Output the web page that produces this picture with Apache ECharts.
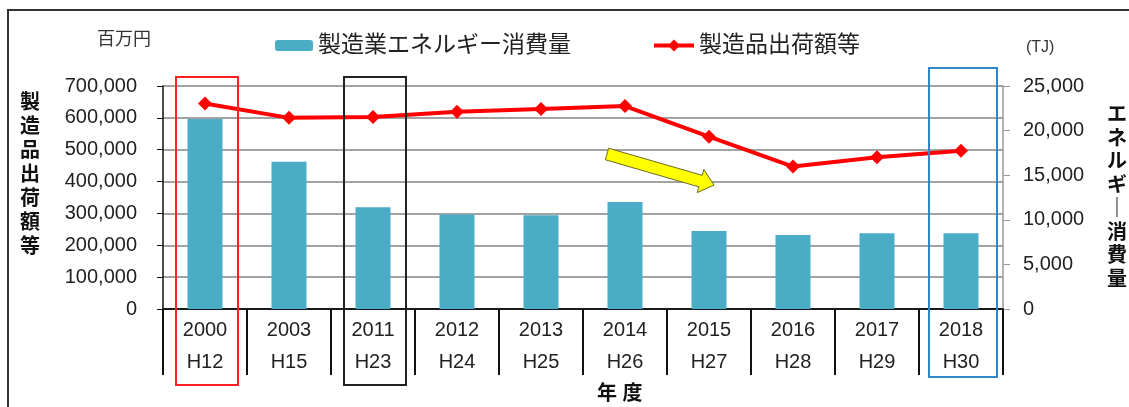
<!DOCTYPE html>
<html>
<head>
<meta charset="utf-8">
<script src="https://cdn.jsdelivr.net/npm/echarts@6/dist/echarts.min.js"></script>
<style>
html, body { margin: 0; padding: 0; background: #fff; }
#chart { width: 1129px; height: 407px; }
</style>
</head>
<body>
<div id="chart"></div>
<script>
// データ
const years = ['2000', '2003', '2011', '2012', '2013', '2014', '2015', '2016', '2017', '2018']
const eras = ['H12', 'H15', 'H23', 'H24', 'H25', 'H26', 'H27', 'H28', 'H29', 'H30']
const energyTJ = [21300, 16500, 11400, 10600, 10500, 12000, 8750, 8300, 8500, 8500]
const shipmentValue = [645000, 600000, 603000, 619000, 628000, 637000, 541000, 447000, 476000, 497000]
const leftAxisRange = [0, 700000, 100000]
const rightAxisRange = [0, 25000, 5000]
// 枠で囲む年度（index と色）
const boxedYears = [[0, '#ff2020'], [2, '#222'], [9, '#2f86c8']]

const FONT = "'Liberation Sans', 'Noto Sans CJK JP', sans-serif"
const chart = echarts.init(document.getElementById('chart'))

// 矢印の多角形
const arrowPoints = (x1, y1, x2, y2, body, head, headLen) => {
  const dx = x2 - x1, dy = y2 - y1, L = Math.hypot(dx, dy)
  const ux = dx / L, uy = dy / L, nx = -uy, ny = ux
  const bx = x2 - ux * headLen, by = y2 - uy * headLen
  return [
    [x1 + nx * body, y1 + ny * body],
    [bx + nx * body, by + ny * body],
    [bx + nx * head, by + ny * head],
    [x2, y2],
    [bx - nx * head, by - ny * head],
    [bx - nx * body, by - ny * body],
    [x1 - nx * body, y1 - ny * body]
  ]
}

const fmt = v => Number(v).toLocaleString('en-US')
const legendText = { fontSize: 23, color: '#222', fontFamily: FONT }

const option = {
  backgroundColor: '#fff',
  textStyle: { fontFamily: FONT },
  animation: false,
  grid: { left: 163, right: 126, top: 86, bottom: 98 },
  legend: [
    {
      left: 275,
      top: 34,
      padding: 0,
      itemWidth: 38,
      itemHeight: 11,
      textStyle: legendText,
      data: ['製造業エネルギー消費量']
    },
    {
      left: 652,
      top: 34,
      padding: 0,
      itemWidth: 40,
      itemHeight: 15,
      lineStyle: { width: 4 },
      textStyle: legendText,
      data: ['製造品出荷額等']
    }
  ],
  xAxis: [
    {
      type: 'category',
      data: years,
      axisLine: { lineStyle: { color: '#111', width: 1.5 } },
      axisTick: { show: true, length: 66, lineStyle: { color: '#111', width: 2 } },
      axisLabel: {
        margin: 5,
        fontSize: 20,
        lineHeight: 32,
        color: '#222',
        formatter: (v, i) => v + '\n' + eras[i]
      }
    },
    {
      type: 'category',
      data: years,
      position: 'top',
      axisLine: { lineStyle: { color: '#111', width: 1.5 } },
      axisTick: { show: false },
      axisLabel: { show: false }
    }
  ],
  yAxis: [
    {
      type: 'value',
      min: leftAxisRange[0],
      max: leftAxisRange[1],
      interval: leftAxisRange[2],
      axisLine: { show: true, lineStyle: { color: '#111', width: 1.5 } },
      axisTick: { show: true, length: 6, lineStyle: { color: '#111' } },
      axisLabel: { margin: 26, fontSize: 20, color: '#222', formatter: fmt },
      splitLine: { lineStyle: { color: '#858585', width: 1.5 } }
    },
    {
      type: 'value',
      min: rightAxisRange[0],
      max: rightAxisRange[1],
      interval: rightAxisRange[2],
      position: 'right',
      axisLine: { show: true, lineStyle: { color: '#999', width: 1.5 } },
      axisTick: { show: true, length: 7, lineStyle: { color: '#999' } },
      axisLabel: { margin: 20, fontSize: 20, color: '#222', formatter: fmt },
      splitLine: { show: false }
    }
  ],
  series: [
    {
      name: '製造業エネルギー消費量',
      type: 'bar',
      yAxisIndex: 1,
      barWidth: 35,
      itemStyle: { color: '#4bacc6' },
      data: energyTJ
    },
    {
      name: '製造品出荷額等',
      type: 'line',
      yAxisIndex: 0,
      symbol: 'diamond',
      symbolSize: 14,
      z: 5,
      itemStyle: { color: '#ff0000' },
      lineStyle: { color: '#ff0000', width: 4 },
      data: shipmentValue
    }
  ]
}
chart.setOption(option)

// 注釈（枠・矢印・軸名）
const graphics = [
  { type: 'rect', shape: { x: 8, y: 10, width: 1140, height: 420 }, style: { fill: 'none', stroke: '#333', lineWidth: 2 }, z: 0 },
  { type: 'text', left: 97, top: 31, style: { text: '百万円', fontSize: 18, fill: '#333', fontFamily: FONT } },
  { type: 'text', left: 1026, top: 40, style: { text: '(TJ)', fontSize: 16, fill: '#333', fontFamily: FONT } },
  { type: 'text', left: 20, top: 91, style: { text: '製\n造\n品\n出\n荷\n額\n等', fontSize: 20, lineHeight: 24, fontWeight: 'bold', fill: '#111', fontFamily: FONT } },
  { type: 'text', left: 1107, top: 104, style: { text: 'エ\nネ\nル\nギ\n｜\n消\n費\n量', fontSize: 20, lineHeight: 23.5, fontWeight: 'bold', fill: '#111', fontFamily: FONT } },
  { type: 'text', left: 597, top: 384, style: { text: '年 度', fontSize: 20, fontWeight: 'bold', fill: '#111', fontFamily: FONT } },
  {
    type: 'polygon',
    shape: { points: arrowPoints(607, 154, 714, 185, 6, 12, 14) },
    style: { fill: '#ffff00', stroke: '#6b6b2a', lineWidth: 1 },
    z: 10
  }
]
boxedYears.forEach(([idx, color]) => {
  const cx = chart.convertToPixel({ xAxisIndex: 0 }, idx)
  const w = idx === 9 ? 68 : 62
  const top = idx === 9 ? 68 : 77
  const bottom = idx === 9 ? 377 : 385
  graphics.push({
    type: 'rect',
    shape: { x: cx + 2 - w / 2, y: top, width: w, height: bottom - top },
    style: { fill: 'none', stroke: color, lineWidth: 2 },
    z: 20
  })
})
chart.setOption({ graphic: graphics })
</script>
</body>
</html>
